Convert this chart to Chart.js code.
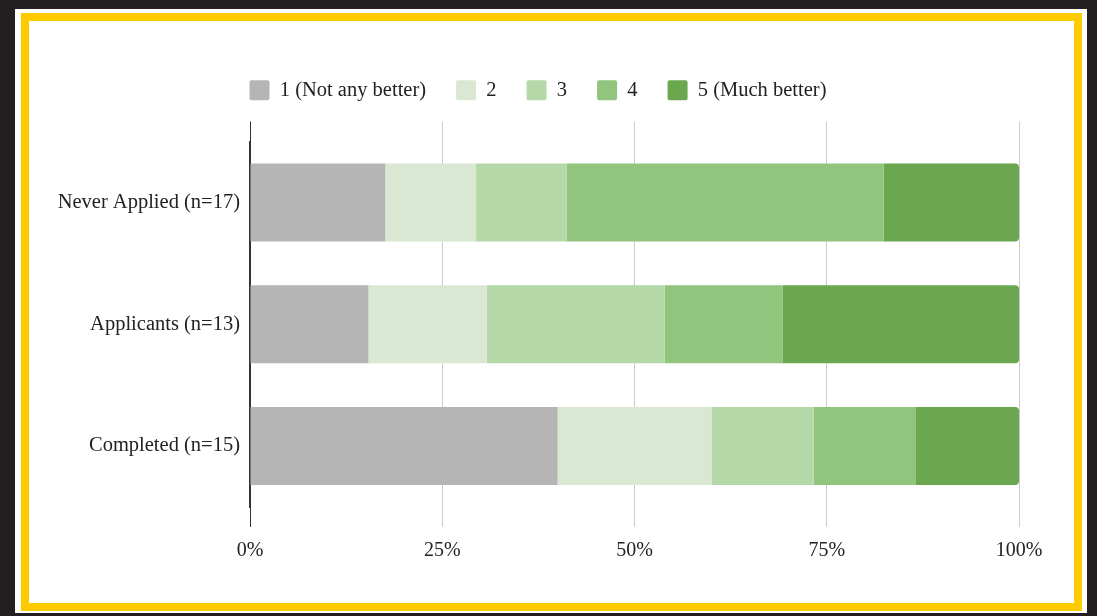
<!DOCTYPE html>
<html>
<head>
<meta charset="utf-8">
<script src="https://cdn.jsdelivr.net/npm/chart.js@4"></script>
<style>
  body { margin: 0; background: #231f20; width: 1097px; height: 616px; overflow: hidden; }
  #gap { position: absolute; left: 15px; top: 9px; width: 1072px; height: 604px; background: #fff; }
  #frame { position: absolute; left: 21px; top: 13px; width: 1061px; height: 598px; box-sizing: border-box;
           border: 8px solid #fecb00; background: #fff; }
  #resultsChart { position: absolute; left: 0; top: 0; }
</style>
</head>
<body>
<div id="gap"></div>
<div id="frame"></div>
<canvas id="resultsChart" width="1097" height="616"></canvas>
<script>
var categories = ["Never Applied (n=17)", "Applicants (n=13)", "Completed (n=15)"];
var seriesNames = ["1 (Not any better)", "2", "3", "4", "5 (Much better)"];
var notBetter = [17.6, 15.4, 40.0];
var two = [11.8, 15.4, 20.0];
var three = [11.8, 23.1, 13.3];
var four = [41.2, 15.4, 13.3];
var muchBetter = [17.6, 30.7, 13.4];
var tickLabels = ["0%", "25%", "50%", "75%", "100%"];

var colors = ["#b5b5b5", "#d9e7d3", "#b4d8a7", "#91c47c", "#6aa74e"];
var serif = "'Liberation Serif', 'Times New Roman', serif";

var values = [notBetter, two, three, four, muchBetter];
var datasets = [];
for (var i = 0; i < values.length; i++) {
    datasets.push({
        label: seriesNames[i],
        data: values[i],
        backgroundColor: colors[i],
        borderWidth: 0,
        borderRadius: 4,
        barPercentage: 0.64,
        categoryPercentage: 1
    });
}

// legend needs a little more room below it
var legendSpace = {
    id: "legendSpace",
    beforeInit: function(chart) {
        if (!chart.legend) return;
        var fit = chart.legend.fit;
        chart.legend.fit = function() {
            fit.bind(chart.legend)();
            this.height += 11;
        };
    }
};

var canvas = document.getElementById("resultsChart");
var myBarChart = new Chart(canvas, {
    type: "bar",
    data: { labels: categories, datasets: datasets },
    plugins: [legendSpace],
    options: {
        indexAxis: "y",
        responsive: false,
        animation: false,
        layout: { padding: { left: 57, right: 78, top: 50, bottom: 41 } },
        plugins: {
            tooltip: { enabled: false },
            legend: {
                position: "top",
                labels: {
                    boxWidth: 20,
                    boxHeight: 20,
                    padding: 30,
                    useBorderRadius: true,
                    borderRadius: 2,
                    color: "#222",
                    font: { family: serif, size: 20.5 }
                }
            }
        },
        scales: {
            x: {
                stacked: true,
                min: 0,
                max: 100,
                ticks: {
                    stepSize: 25,
                    padding: 12,
                    color: "#222",
                    font: { family: serif, size: 20 },
                    callback: function(value) { return tickLabels[value / 25]; }
                },
                grid: {
                    tickLength: 20,
                    lineWidth: 1,
                    color: function(ctx) { return ctx.index === 0 ? "#333" : "#cccccc"; }
                },
                border: { display: false }
            },
            x2: {
                position: "top",
                min: 0,
                max: 100,
                ticks: { stepSize: 25, display: false },
                grid: {
                    tickLength: 20,
                    drawOnChartArea: false,
                    color: function(ctx) { return ctx.index === 0 ? "#333" : "#cccccc"; }
                },
                border: { display: false }
            },
            y: {
                stacked: true,
                z: 1,
                afterFit: function(scale) { scale.width = 193; },
                ticks: {
                    padding: 2,
                    color: "#222",
                    font: { family: serif, size: 20.5 }
                },
                grid: { display: false },
                border: { display: true, color: "#333", width: 1.5 }
            }
        }
    }
});
</script>
</body>
</html>
